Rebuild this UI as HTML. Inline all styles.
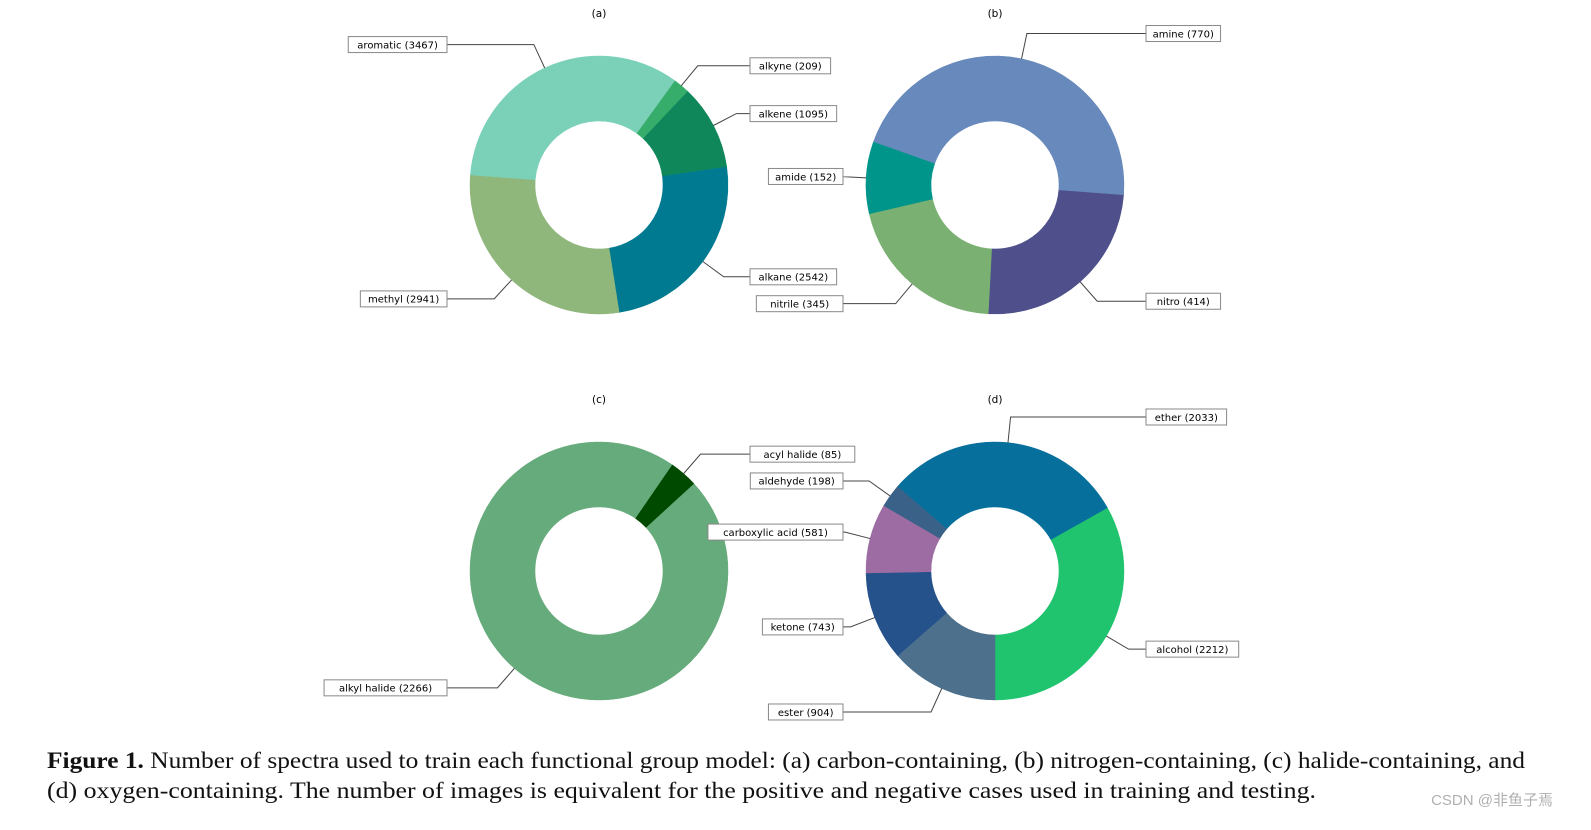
<!DOCTYPE html>
<html><head><meta charset="utf-8"><style>
html,body{margin:0;padding:0;background:#fff;}
svg{display:block;}
</style></head><body>
<svg id="fig" width="1591" height="830" viewBox="0 0 1591 830" xmlns="http://www.w3.org/2000/svg">
<g id="charts"></g>
<text x="47" y="768" font-family="Liberation Serif, serif" font-size="23" fill="#111" textLength="1478" lengthAdjust="spacingAndGlyphs"><tspan font-weight="bold">Figure 1.</tspan> Number of spectra used to train each functional group model: (a) carbon-containing, (b) nitrogen-containing, (c) halide-containing, and</text>
<text x="47" y="798" font-family="Liberation Serif, serif" font-size="23" fill="#111" textLength="1269" lengthAdjust="spacingAndGlyphs">(d) oxygen-containing. The number of images is equivalent for the positive and negative cases used in training and testing.</text>
<text x="1553" y="805" text-anchor="end" font-family="Liberation Sans, Noto Sans CJK SC, sans-serif" font-size="15" fill="#b0b0b0">CSDN @非鱼子焉</text>
</svg>
<script>
// Chart (a) carbon-containing
const aLabels = ["alkane","alkene","alkyne","aromatic","methyl"];
const aValues = [2542,1095,209,3467,2941];
const aColors = ["#007A91","#10875B","#37AD6B","#7AD1B8","#8FB67B"];
// Chart (b) nitrogen-containing
const bLabels = ["nitro","amine","amide","nitrile"];
const bValues = [414,770,152,345];
const bColors = ["#4F4F8B","#6789BB","#00958A","#7BB073"];
// Chart (c) halide-containing
const cLabels = ["acyl halide","alkyl halide"];
const cValues = [85,2266];
const cColors = ["#004A00","#66AB7B"];
// Chart (d) oxygen-containing
const dLabels = ["alcohol","ether","aldehyde","carboxylic acid","ketone","ester"];
const dValues = [2212,2033,198,581,743,904];
const dColors = ["#21C46E","#066F9C","#3A6289","#9C6CA3","#25528B","#4D718C"];

const NS = "http://www.w3.org/2000/svg";
const root = document.getElementById("charts");
function mk(tag, attrs, parent){
  const e = document.createElementNS(NS, tag);
  for (const k in attrs) e.setAttribute(k, attrs[k]);
  parent.appendChild(e);
  return e;
}
function pt(cx, cy, r, deg){
  const t = deg*Math.PI/180;
  return [cx + r*Math.cos(t), cy - r*Math.sin(t)];
}
function donut(id, title, labels, values, colors, cx, cy, startDeg){
  const R = 129, r = 64;
  const g = mk("g", {}, root);
  
  
  const tt = mk("text", {x: cx, y: 21, "text-anchor":"middle", "font-family":"DejaVu Sans, sans-serif", "font-size":"10.5", fill:"#000"}, g);
  tt.setAttribute('y', cy - 168);
  tt.textContent = "(" + id + ")";
  
  
  const total = values.reduce((s,v)=>s+v,0);
  let a0 = startDeg;
  values.forEach((v,i)=>{
    const sweep = v/total*360;
    const a1 = a0 + sweep;
    const large = sweep > 180 ? 1 : 0;
    const p0 = pt(cx,cy,R,a0), p1 = pt(cx,cy,R,a1), q1 = pt(cx,cy,r,a1), q0 = pt(cx,cy,r,a0);
    const d = `M${p0[0]},${p0[1]} A${R},${R} 0 ${large} 0 ${p1[0]},${p1[1]} L${q1[0]},${q1[1]} A${r},${r} 0 ${large} 1 ${q0[0]},${q0[1]} Z`;
    const path = mk("path", {d, fill: colors[i], stroke: colors[i], "stroke-width":"0.5"}, g);
    
    
    // label
    const mid = (a0 + a1)/2;
    const t = mid*Math.PI/180;
    const c = Math.cos(t), s = Math.sin(t);
    const edge = pt(cx,cy,R,mid);
    const elbow = pt(cx,cy,1.2*R,mid);
    const right = c >= 0;
    const by = elbow[1];
    const txt = labels[i] + " (" + v + ")";
    const w = txt.length*6.05 + 8;
    const bx = right ? cx + 151 : cx - 152 - w;
    const attach = right ? bx : bx + w;
    const line = mk("polyline", {points:`${edge[0]},${edge[1]} ${elbow[0]},${elbow[1]} ${attach},${by}`, fill:"none", stroke:"#444", "stroke-width":"1"}, g);
    
    
    const box = mk("rect", {x: bx, y: by-8, width: w, height: 16, fill:"#fff", stroke:"#888", "stroke-width":"1"}, g);
    
    
    const lt = mk("text", {x: bx + w/2, y: by+3.8, "text-anchor":"middle", "font-family":"DejaVu Sans, sans-serif", "font-size":"10", fill:"#000"}, g);
    lt.textContent = txt;
    
    
    a0 = a1;
  });
}
donut("a","carbon", aLabels, aValues, aColors, 599, 185, -81);
donut("b","nitrogen", bLabels, bValues, bColors, 995, 185, -93);
donut("c","halide", cLabels, cValues, cColors, 599, 571, 42.5);
donut("d","oxygen", dLabels, dValues, dColors, 995, 571, -90);
</script>
</body></html>
